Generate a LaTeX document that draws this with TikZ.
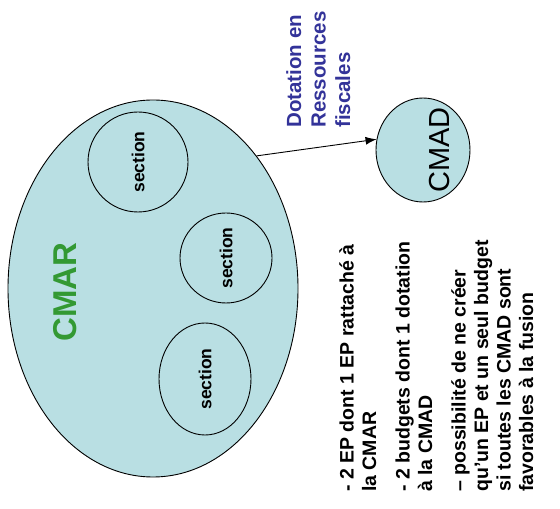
\documentclass[tikz,border=0pt]{standalone}
\usepackage{fontspec}
\setmainfont{Liberation Sans}
\usetikzlibrary{shapes.geometric,arrows.meta}
\definecolor{paleblue}{RGB}{185,223,227}
\definecolor{cmargreen}{RGB}{51,153,51}
\definecolor{dotblue}{RGB}{51,51,153}
\begin{document}
\begin{tikzpicture}[x=1pt,y=1pt,
  blob/.style={ellipse, draw=black, line width=0.9pt, fill=paleblue, inner sep=0pt},
  vtext/.style={rotate=90, inner sep=0pt},
  secttext/.style={vtext, font=\bfseries\fontsize{17.5}{20}\selectfont},
  link/.style={-{Latex[length=11pt,width=8pt]}, line width=0.9pt}]
\useasboundingbox (0,0) rectangle (560,509);

% the CMAR body with its three sections
\node[blob, minimum width=290pt, minimum height=377pt] (cmar) at (153,220.5) {};
\node[vtext, text=cmargreen, font=\bfseries\fontsize{33}{36}\selectfont] (cmarlabel) at (65,217) {CMAR};

\node[blob, minimum width=100pt, minimum height=100pt] (secA) at (138,347) {};
\node[secttext] (secAtext) at (secA) {section};
\node[blob, minimum width=92pt, minimum height=90pt] (secB) at (226,251) {};
\node[secttext] (secBtext) at (secB) {section};
\node[blob, minimum width=92pt, minimum height=112pt] (secC) at (205,130) {};
\node[secttext] (secCtext) at (secC) {section};

% the CMAD
\node[blob, minimum width=94pt, minimum height=104pt] (cmad) at (423,359) {};
\node[vtext, font=\fontsize{29}{32}\selectfont] (cmadtext) at (440,359) {CMAD};

% funding link
\draw[link] (cmar.52) -- (cmad.167);
\node[vtext, anchor=north west, align=left, text=dotblue,
      font=\bfseries\fontsize{20.5}{24.5}\selectfont] (dotation) at (286,381)
  {Dotation en\\Ressources\\fiscales};

% notes
\node[vtext, anchor=north west, align=left,
      font=\bfseries\fontsize{19.5}{22.5}\selectfont] (notes) at (339,17)
  {- 2 EP dont 1 EP rattaché à\\la CMAR\\[11pt]
   - 2 budgets dont 1 dotation\\à la CMAD\\[11pt]
   – possibilité de ne créer\\qu’un EP et un seul budget\\si toutes les CMAD sont\\favorables à la fusion};
\end{tikzpicture}
\end{document}
